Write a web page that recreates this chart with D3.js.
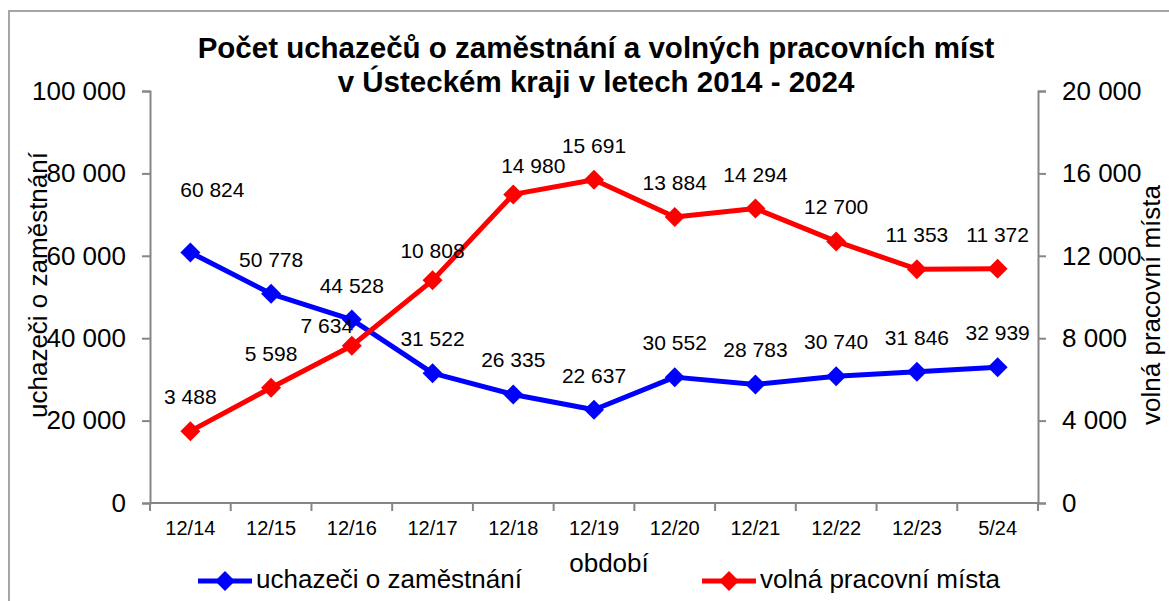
<!DOCTYPE html>
<html>
<head>
<meta charset="utf-8">
<script src="https://cdn.jsdelivr.net/npm/d3@7"></script>
<style>
  html, body { margin: 0; padding: 0; background: #fff; }
  svg { display: block; font-family: "Liberation Sans", Arial, sans-serif; }
</style>
</head>
<body>
<div id="chart"></div>
<script>
// data
const categories = ["12/14", "12/15", "12/16", "12/17", "12/18", "12/19", "12/20", "12/21", "12/22", "12/23", "5/24"];
const applicants = [60824, 50778, 44528, 31522, 26335, 22637, 30552, 28783, 30740, 31846, 32939];
const vacancies = [3488, 5598, 7634, 10808, 14980, 15691, 13884, 14294, 12700, 11353, 11372];
const leftTicks = [0, 20000, 40000, 60000, 80000, 100000];
const rightTicks = [0, 4000, 8000, 12000, 16000, 20000];
const titleLines = ["Počet uchazečů o zaměstnání a volných pracovních míst", "v Ústeckém kraji v letech 2014 - 2024"];

const W = 1169, H = 601;
const plot = { left: 150, right: 1038, top: 91, bottom: 503 };
const axisColor = "#868686";
const blue = "#0000ff", red = "#ff0000";

const fmt = d3.formatLocale({ decimal: ",", thousands: " ", grouping: [3], currency: ["", ""] }).format(",d");

const svg = d3.select("#chart").append("svg")
    .attr("width", W)
    .attr("height", H);

svg.append("rect").attr("width", W).attr("height", H).attr("fill", "#fff");

// outer chart border (runs off the right and bottom edge)
svg.append("rect")
    .attr("x", 9).attr("y", 11)
    .attr("width", W + 20).attr("height", H + 20)
    .attr("fill", "none")
    .attr("stroke", "#a6a6a6")
    .attr("stroke-width", 2);

// scales
const x = d3.scaleBand().domain(categories).range([plot.left, plot.right]).padding(0);
const yL = d3.scaleLinear().domain([0, 100000]).range([plot.bottom, plot.top]);
const yR = d3.scaleLinear().domain([0, 20000]).range([plot.bottom, plot.top]);
const cx = d => x(d) + x.bandwidth() / 2;

// title
svg.append("text")
    .attr("x", 596)
    .attr("text-anchor", "middle")
    .style("font-size", "29.5px")
    .style("font-weight", "bold")
    .selectAll("tspan")
    .data(titleLines)
    .join("tspan")
    .attr("x", 596)
    .attr("y", (d, i) => 58 + i * 34)
    .text(d => d);

// left axis
const gL = svg.append("g")
    .attr("transform", `translate(${plot.left},0)`)
    .call(d3.axisLeft(yL).tickValues(leftTicks).tickFormat(fmt).tickSize(8).tickPadding(16));

// right axis
const gR = svg.append("g")
    .attr("transform", `translate(${plot.right},0)`)
    .call(d3.axisRight(yR).tickValues(rightTicks).tickFormat(fmt).tickSize(8).tickPadding(16));

[gL, gR].forEach(g => {
  g.select(".domain").attr("stroke", axisColor).attr("stroke-width", 2);
  g.selectAll(".tick line").attr("stroke", axisColor).attr("stroke-width", 2);
  g.selectAll(".tick text")
      .attr("fill", "#000")
      .style("font-size", "26px")
      .style("font-family", "'Liberation Sans', Arial, sans-serif");
});

// bottom axis: ticks sit on category boundaries
const gX = svg.append("g").attr("transform", `translate(0,${plot.bottom})`);
gX.append("line")
    .attr("x1", plot.left).attr("x2", plot.right)
    .attr("stroke", axisColor).attr("stroke-width", 2);
gX.selectAll("line.tick")
    .data(categories.concat([null]))
    .join("line")
    .attr("class", "tick")
    .attr("x1", d => d === null ? plot.right : x(d))
    .attr("x2", d => d === null ? plot.right : x(d))
    .attr("y1", 0).attr("y2", 8)
    .attr("stroke", axisColor).attr("stroke-width", 2);
gX.selectAll("text")
    .data(categories)
    .join("text")
    .attr("x", d => cx(d))
    .attr("y", 32)
    .attr("text-anchor", "middle")
    .style("font-size", "20px")
    .text(d => d);

// axis titles
svg.append("text")
    .attr("transform", `translate(47,285) rotate(-90)`)
    .attr("text-anchor", "middle")
    .style("font-size", "26px")
    .text("uchazeči o zaměstnání");

svg.append("text")
    .attr("transform", `translate(1160,305) rotate(-90)`)
    .attr("text-anchor", "middle")
    .style("font-size", "26px")
    .text("volná pracovní místa");

svg.append("text")
    .attr("x", 609).attr("y", 572)
    .attr("text-anchor", "middle")
    .style("font-size", "26px")
    .text("období");

// series
const series = [
  { name: "uchazeči o zaměstnání", values: applicants, y: yL, color: blue,
    nudge: { 0: [22, -28] } },
  { name: "volná pracovní místa", values: vacancies, y: yR, color: red,
    nudge: { 2: [-25, 14], 3: [0, 5], 4: [20, 6] } }
];

const diamond = d3.symbol().type(d3.symbolSquare).size(200);

series.forEach(s => {
  const pts = categories.map((c, i) => ({ c, v: s.values[i], i }));
  const line = d3.line().x(d => cx(d.c)).y(d => s.y(d.v));

  svg.append("path")
      .datum(pts)
      .attr("d", line)
      .attr("fill", "none")
      .attr("stroke", s.color)
      .attr("stroke-width", 5)
      .attr("stroke-linejoin", "round");

  svg.selectAll(null)
      .data(pts)
      .join("path")
      .attr("d", diamond)
      .attr("transform", d => `translate(${cx(d.c)},${s.y(d.v)}) rotate(45)`)
      .attr("fill", s.color);

  svg.selectAll(null)
      .data(pts)
      .join("text")
      .attr("x", d => cx(d.c) + (s.nudge[d.i] ? s.nudge[d.i][0] : 0))
      .attr("y", d => s.y(d.v) - 27 + (s.nudge[d.i] ? s.nudge[d.i][1] : 0))
      .attr("text-anchor", "middle")
      .style("font-size", "21px")
      .text(d => fmt(d.v));
});

// legend
const legend = [
  { name: series[0].name, color: blue, x: 198 },
  { name: series[1].name, color: red, x: 702 }
];
const lg = svg.selectAll("g.legend")
    .data(legend)
    .join("g")
    .attr("class", "legend")
    .attr("transform", d => `translate(${d.x},581)`);
lg.append("line")
    .attr("x1", 0).attr("x2", 54)
    .attr("stroke", d => d.color)
    .attr("stroke-width", 5);
lg.append("path")
    .attr("d", diamond)
    .attr("transform", "translate(27,0) rotate(45)")
    .attr("fill", d => d.color);
lg.append("text")
    .attr("x", 58).attr("y", 7)
    .style("font-size", "26px")
    .text(d => d.name);
</script>
</body>
</html>
